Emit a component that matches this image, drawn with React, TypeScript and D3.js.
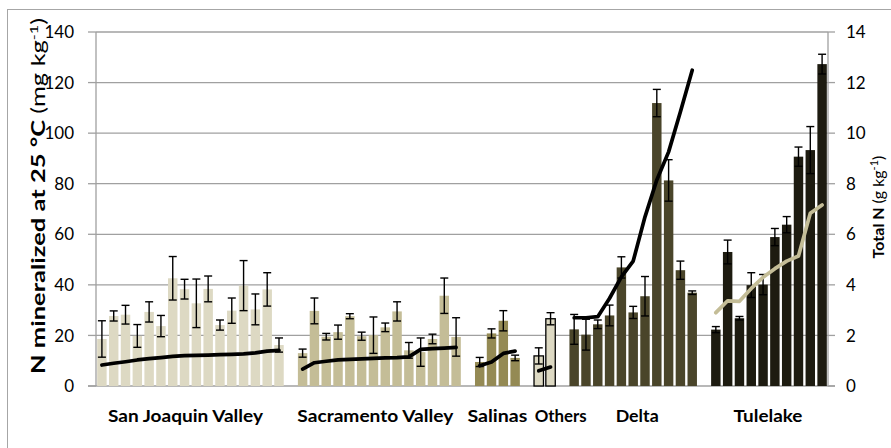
import React from 'react';
import * as d3 from 'd3';

// ---- data ----
const groupNames = ['San Joaquin Valley', 'Sacramento Valley', 'Salinas', 'Others', 'Delta', 'Tulelake'];

const sjMineralized = [18.6, 27.7, 28.2, 19.8, 29.3, 23.7, 42.6, 38.3, 32.7, 38.4, 24.1, 29.8, 39.7, 30.3, 38.2, 16.2];
const sjError = [7.2, 2.0, 3.7, 4.5, 4.0, 4.2, 8.6, 3.9, 9.6, 5.1, 2.0, 5.0, 9.9, 6.1, 6.6, 2.8];
const sjTotalN = [0.83, 0.9, 0.96, 1.03, 1.08, 1.12, 1.17, 1.2, 1.21, 1.22, 1.24, 1.25, 1.27, 1.31, 1.38, 1.41];

const sacMineralized = [13.0, 29.7, 19.5, 21.3, 27.6, 19.7, 20.1, 23.2, 29.5, 14.1, 13.4, 18.6, 35.7, 19.4];
const sacError = [1.6, 5.1, 1.3, 2.8, 1.0, 1.6, 7.2, 1.7, 3.8, 3.1, 5.6, 1.9, 7.0, 7.6];
const sacTotalN = [0.67, 0.92, 0.98, 1.03, 1.05, 1.07, 1.09, 1.11, 1.12, 1.15, 1.45, 1.48, 1.5, 1.53];

const salMineralized = [9.5, 20.8, 25.8, 11.1];
const salError = [1.8, 1.8, 4.0, 1.1];
const salTotalN = [0.8, 0.95, 1.29, 1.38];

const othMineralized = [11.9, 26.6];
const othError = [3.2, 2.4];
const othTotalN = [0.6, 0.75];

const deltaMineralized = [22.4, 20.3, 24.4, 27.9, 46.9, 29.1, 35.5, 111.9, 81.3, 45.8, 36.9];
const deltaError = [5.9, 6.1, 1.7, 4.1, 4.2, 2.4, 7.8, 5.4, 8.2, 3.6, 0.7];
const deltaTotalN = [2.7, 2.7, 2.74, 3.47, 4.32, 4.94, 6.69, 8.15, 9.26, 10.85, 12.49];

const tuleMineralized = [22.3, 53.0, 26.8, 39.9, 40.1, 58.9, 63.8, 90.7, 93.3, 127.3];
const tuleError = [1.2, 4.7, 0.7, 4.9, 4.0, 3.4, 3.2, 3.8, 9.3, 3.9];
const tuleTotalN = [2.9, 3.37, 3.35, 3.86, 4.3, 4.64, 4.94, 5.14, 6.83, 7.16];

const leftTicks = [0, 20, 40, 60, 80, 100, 120, 140];
const rightTicks = [0, 2, 4, 6, 8, 10, 12, 14];

const groupMineralized = [sjMineralized, sacMineralized, salMineralized, othMineralized, deltaMineralized, tuleMineralized];
const groupError = [sjError, sacError, salError, othError, deltaError, tuleError];
const groupTotalN = [sjTotalN, sacTotalN, salTotalN, othTotalN, deltaTotalN, tuleTotalN];

// ---- styles ----
const barFill = ['#DDD9C3', '#C4BD97', '#948A54', '#DDD9C3', '#4A452A', '#1D1B10'];
const barStroke = ['none', 'none', 'none', '#000', 'none', 'none'];
const lineColor = ['#000', '#000', '#000', '#000', '#000', '#C4BD97'];
const labelDx = [-5, -4, 0, 16, 4, -1];
const labelLen = [155, 156, 60, 52, 43, 69];
const FONT = 'Lato, "Open Sans", sans-serif';

export default function App() {
  const W = 891, H = 448;
  const left = 96, right = 828, top = 32, bottom = 386;

  // build slots: each group followed by a blank slot
  const slots: { g: number; i: number; slot: number }[] = [];
  let s = 0;
  const groupSlots: number[][] = [];
  groupMineralized.forEach((arr, g) => {
    const gs: number[] = [];
    arr.forEach((_, i) => { slots.push({ g, i, slot: s }); gs.push(s); s++; });
    groupSlots.push(gs);
    s++;
  });
  const nSlots = s - 1;

  const x = d3.scaleBand<number>().domain(d3.range(nSlots)).range([left, right]).paddingInner(0.2).paddingOuter(0.1);
  const yL = d3.scaleLinear().domain([0, 140]).range([bottom, top]);
  const yR = d3.scaleLinear().domain([0, 14]).range([bottom, top]);
  const bw = x.bandwidth();
  const cx = (slot: number) => (x(slot) as number) + bw / 2;

  const line = d3.line<[number, number]>().x(d => d[0]).y(d => d[1]).curve(d3.curveLinear);

  const capW = 8;

  return (
    <svg width={W} height={H} style={{ position: 'absolute', left: 0, top: 0 }} fontFamily={FONT}>
      <rect x={0} y={0} width={W} height={H} fill="#fff" />
      <rect x={7.5} y={9.5} width={W + 20} height={H + 20} fill="none" stroke="#a6a6a6" strokeWidth={1} />
      {/* gridlines */}
      {leftTicks.slice(1).map(t => (
        <line key={t} x1={left} x2={right} y1={yL(t)} y2={yL(t)} stroke="#a0a0a0" strokeWidth={1.3} />
      ))}
      {/* axes */}
      <line x1={left} x2={left} y1={top} y2={bottom} stroke="#a0a0a0" strokeWidth={1.3} />
      <line x1={right} x2={right} y1={top} y2={bottom} stroke="#a0a0a0" strokeWidth={1.3} />
      <line x1={88} x2={835} y1={bottom} y2={bottom} stroke="#a0a0a0" strokeWidth={1.3} />
      {leftTicks.map(t => (
        <g key={'l' + t}>
          <line x1={88} x2={left} y1={yL(t)} y2={yL(t)} stroke="#a0a0a0" strokeWidth={1.3} />
          <text x={74} y={yL(t)} dy="0.36em" textAnchor="end" fontSize={17} fill="#000">{t}</text>
        </g>
      ))}
      {rightTicks.map(t => (
        <g key={'r' + t}>
          <line x1={right} x2={835} y1={yR(t)} y2={yR(t)} stroke="#a0a0a0" strokeWidth={1.3} />
          <text x={846} y={yR(t)} dy="0.36em" textAnchor="start" fontSize={17} fill="#000">{t}</text>
        </g>
      ))}
      {/* bars */}
      {slots.map(({ g, i, slot }) => {
        const v = groupMineralized[g][i];
        return (
          <rect key={'b' + slot} x={x(slot)} y={yL(v)} width={bw} height={yL(0) - yL(v)}
            fill={barFill[g]} stroke={barStroke[g]} strokeWidth={1.3} />
        );
      })}
      {/* error bars */}
      {slots.map(({ g, i, slot }) => {
        const v = groupMineralized[g][i];
        const e = groupError[g][i];
        const c = cx(slot);
        return (
          <g key={'e' + slot} stroke="#000" strokeWidth={1.4}>
            <line x1={c} x2={c} y1={yL(v + e)} y2={yL(v - e)} />
            <line x1={c - capW / 2} x2={c + capW / 2} y1={yL(v + e)} y2={yL(v + e)} />
            <line x1={c - capW / 2} x2={c + capW / 2} y1={yL(v - e)} y2={yL(v - e)} />
          </g>
        );
      })}
      {/* total N lines */}
      {groupTotalN.map((arr, g) => (
        <path key={'ln' + g}
          d={line(arr.map((v, i) => [cx(groupSlots[g][i]), yR(v)] as [number, number])) || ''}
          fill="none" stroke={lineColor[g]} strokeWidth={3.7} strokeLinejoin="round" strokeLinecap="round" />
      ))}
      {/* group labels */}
      {groupNames.map((name, g) => {
        const gs = groupSlots[g];
        const c = (cx(gs[0]) + cx(gs[gs.length - 1])) / 2 + labelDx[g];
        return (
          <text key={name} x={c} y={422} textAnchor="middle" fontSize={17} fontWeight="bold" fill="#000"
            textLength={labelLen[g]} lengthAdjust="spacingAndGlyphs">{name}</text>
        );
      })}
      {/* axis titles */}
      <text transform={`translate(45,${196}) rotate(-90)`} textAnchor="middle" fontSize={19} fill="#000"
        textLength={356} lengthAdjust="spacingAndGlyphs">
        <tspan fontWeight="bold">N mineralized at 25 °C </tspan>
        <tspan>(mg kg</tspan>
        <tspan fontSize={12} dy={-7}>-1</tspan>
        <tspan dy={7}>)</tspan>
      </text>
      <text transform={`translate(884,${207}) rotate(-90)`} textAnchor="middle" fontSize={16} fill="#000">
        <tspan fontWeight="bold">Total N </tspan>
        <tspan>(g kg</tspan>
        <tspan fontSize={11} dy={-6}>-1</tspan>
        <tspan dy={6}>)</tspan>
      </text>
    </svg>
  );
}
